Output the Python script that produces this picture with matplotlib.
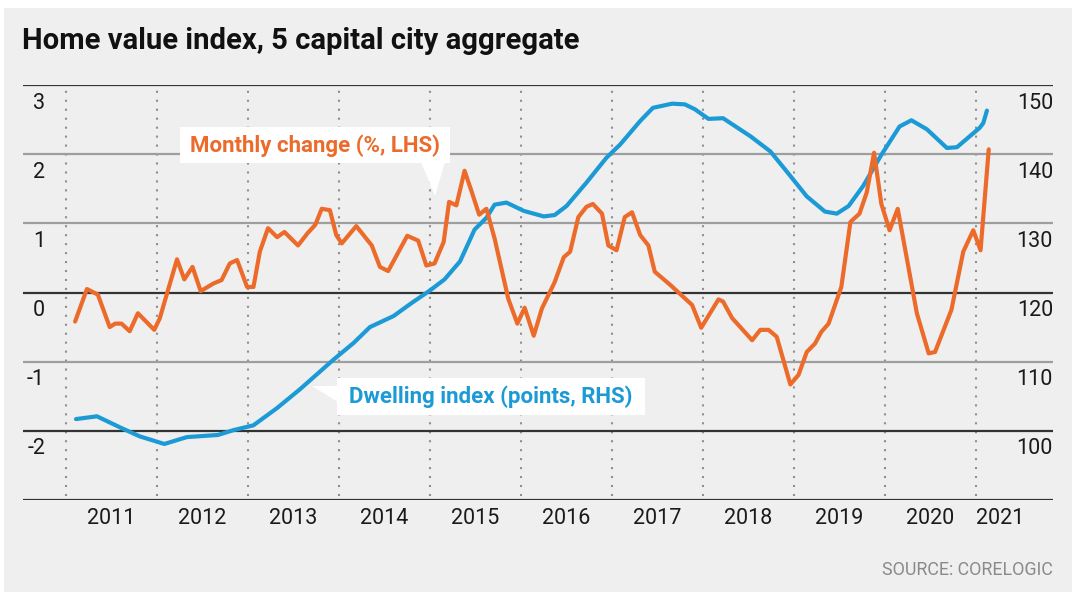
import matplotlib
matplotlib.use('Agg')
import matplotlib.pyplot as plt
from matplotlib.patches import Rectangle, Polygon

plt.rcParams['font.family'] = ['Roboto', 'DejaVu Sans']

# ---------------- data ----------------
title = "Home value index, 5 capital city aggregate"
source = "SOURCE: CORELOGIC"
orange_label = "Monthly change (%, LHS)"
blue_label = "Dwelling index (points, RHS)"

years = list(range(2011, 2022))
lhs_ticks = [3, 2, 1, 0, -1, -2]
rhs_ticks = [150, 140, 130, 120, 110, 100]

# Monthly change (%), LHS
change_t = [2011.10, 2011.23, 2011.35, 2011.48, 2011.54, 2011.61, 2011.70, 2011.79,
            2011.97, 2012.03, 2012.22, 2012.30, 2012.39, 2012.48, 2012.62, 2012.71,
            2012.80, 2012.88, 2012.99, 2013.06, 2013.13, 2013.22, 2013.32, 2013.40,
            2013.55, 2013.65, 2013.74, 2013.81, 2013.90, 2013.97, 2014.03, 2014.19,
            2014.36, 2014.45, 2014.54, 2014.75, 2014.87, 2014.96, 2015.05, 2015.15,
            2015.21, 2015.29, 2015.38, 2015.46, 2015.54, 2015.62, 2015.71, 2015.86,
            2015.96, 2016.04, 2016.14, 2016.23, 2016.37, 2016.47, 2016.54, 2016.63,
            2016.72, 2016.79, 2016.89, 2016.96, 2017.05, 2017.14, 2017.22, 2017.31,
            2017.40, 2017.47, 2017.64, 2017.88, 2017.98, 2018.17, 2018.22, 2018.32,
            2018.54, 2018.63, 2018.72, 2018.81, 2018.96, 2019.05, 2019.14, 2019.23,
            2019.30, 2019.38, 2019.52, 2019.62, 2019.72, 2019.80, 2019.88, 2019.96,
            2020.05, 2020.14, 2020.35, 2020.48, 2020.55, 2020.73, 2020.86, 2020.97,
            2021.05, 2021.14]
change_v = [-0.42, 0.05, -0.03, -0.50, -0.45, -0.45, -0.56, -0.30,
            -0.54, -0.375, 0.48, 0.19, 0.37, 0.02, 0.13, 0.18,
            0.42, 0.47, 0.08, 0.08, 0.59, 0.93, 0.80, 0.875,
            0.68, 0.85, 0.98, 1.21, 1.19, 0.83, 0.71, 0.96,
            0.68, 0.37, 0.31, 0.82, 0.75, 0.39, 0.42, 0.73,
            1.31, 1.26, 1.76, 1.45, 1.125, 1.21, 0.78, -0.09,
            -0.45, -0.22, -0.625, -0.23, 0.15, 0.51, 0.59, 1.09,
            1.24, 1.28, 1.14, 0.68, 0.61, 1.09, 1.16, 0.83,
            0.68, 0.30, 0.11, -0.18, -0.51, -0.10, -0.13, -0.37,
            -0.69, -0.54, -0.54, -0.64, -1.33, -1.19, -0.86, -0.74,
            -0.57, -0.45, 0.08, 1.02, 1.14, 1.45, 2.02, 1.28,
            0.90, 1.21, -0.30, -0.88, -0.86, -0.25, 0.59, 0.90,
            0.61, 2.07]

# Dwelling index (points), RHS
index_t = [2011.11, 2011.34, 2011.61, 2011.81, 2012.08, 2012.33, 2012.67, 2012.84,
           2013.06, 2013.32, 2013.57, 2013.94, 2014.16, 2014.34, 2014.60, 2014.80,
           2015.00, 2015.16, 2015.33, 2015.49, 2015.62, 2015.71, 2015.84, 2016.03,
           2016.25, 2016.37, 2016.50, 2016.72, 2016.94, 2017.09, 2017.31, 2017.45,
           2017.66, 2017.80, 2017.91, 2018.06, 2018.22, 2018.52, 2018.74, 2018.92,
           2019.14, 2019.34, 2019.47, 2019.60, 2019.76, 2019.96, 2020.16, 2020.29,
           2020.46, 2020.68, 2020.79, 2021.04, 2021.08, 2021.12]
index_v = [101.7, 102.1, 100.4, 99.2, 98.1, 99.1, 99.4, 100.1,
           100.8, 103.3, 106.0, 110.3, 112.7, 115.0, 116.6, 118.5,
           120.3, 121.9, 124.5, 129.1, 130.8, 132.7, 133.0, 131.8,
           131.0, 131.2, 132.5, 135.9, 139.5, 141.4, 144.8, 146.7,
           147.3, 147.2, 146.5, 145.1, 145.2, 142.6, 140.4, 137.5,
           133.9, 131.7, 131.4, 132.5, 135.4, 139.9, 144.0, 144.9,
           143.6, 140.9, 141.0, 143.8, 144.5, 146.3]

# ---------------- style ----------------
ORANGE = '#EC6B2B'
BLUE = '#1C9AD6'
BG = '#EFEFEF'
DARK = '#333333'
GRAY = '#9E9E9E'

W, H = 1080, 601
fig = plt.figure(figsize=(W / 100, H / 100), dpi=100)
fig.patch.set_facecolor('white')


def fx(x):
    return x / W


def fy(y):
    return 1 - y / H


fig.add_artist(Rectangle((fx(4), fy(592)), fx(1072) - fx(4), fy(8) - fy(592),
                         transform=fig.transFigure, facecolor=BG,
                         edgecolor='none', zorder=-5))

L, R, T, B = 23, 1053, 85, 500
ax = fig.add_axes([fx(L), fy(B), (R - L) / W, (B - T) / H])
ax.set_xlim(2011 - 43 / 91, 2011 + 987 / 91)
ax.set_ylim(-3, 3)
ax.set_axis_off()

# horizontal rules
for v in [3, 2, 1, 0, -1, -2, -3]:
    dark = v in (3, 0, -2, -3)
    ax.axhline(v, color=DARK if dark else GRAY, lw=1.6, zorder=1)

# dotted year separators
for yr in years:
    ax.axvline(yr, ymin=0.01, ymax=0.99, color='#8F8F8F', lw=1.5,
               linestyle=(0, (1, 3.3)), dash_capstyle='butt', zorder=0.5)

# tick labels
lab_fs = 15.5
for v in lhs_ticks:
    ax.annotate(str(v), xy=((45 - L) / (R - L), v),
                xycoords=('axes fraction', 'data'), xytext=(0, -13),
                textcoords='offset points', ha='right', va='center',
                fontsize=lab_fs, color='#1a1a1a')

for yr in years:
    pos = yr + 0.5 if yr < years[-1] else yr + 0.27
    ax.annotate(str(yr), xy=(pos, 0), xycoords=('data', 'axes fraction'),
                xytext=(0, -13), textcoords='offset points', ha='center',
                va='center', fontsize=lab_fs, color='#1a1a1a')

# RHS axis: dwelling index
ax2 = ax.twinx()
ax2.set_ylim(90, 150)
ax2.set_axis_off()
ax2.plot(index_t, index_v, color=BLUE, lw=3.0, solid_joinstyle='round',
         solid_capstyle='round')
for v in rhs_ticks:
    ax2.annotate(str(v), xy=(1.0, v), xycoords=('axes fraction', 'data'),
                 xytext=(0, -13), textcoords='offset points', ha='right',
                 va='center', fontsize=lab_fs, color='#1a1a1a')

# LHS line: monthly change (drawn on top)
ax3 = ax.twinx()
ax3.set_ylim(-3, 3)
ax3.set_axis_off()
ax3.plot(change_t, change_v, color=ORANGE, lw=3.0, solid_joinstyle='round',
         solid_capstyle='round')

# callout boxes
def callout(box, tail, text, color, cx, cy):
    x0, y0, x1, y1 = box
    fig.add_artist(Rectangle((fx(x0), fy(y1)), fx(x1) - fx(x0), fy(y0) - fy(y1),
                             transform=fig.transFigure, facecolor='white',
                             edgecolor='none', zorder=5))
    fig.add_artist(Polygon([(fx(px), fy(py)) for px, py in tail], closed=True,
                           transform=fig.transFigure, facecolor='white',
                           edgecolor='none', zorder=5))
    fig.text(fx(cx), fy(cy), text, color=color, fontsize=16, weight='bold',
             ha='center', va='center', zorder=6)


callout((180, 127, 450, 163), [(421, 162), (445, 162), (435, 196)],
        orange_label, ORANGE, 315, 146)
callout((337, 378, 645, 415), [(338, 386), (338, 402), (312, 386)],
        blue_label, BLUE, 491, 397)

# title and source
fig.text(fx(22), fy(41), title, fontsize=21.1, ha='left', va='center',
         color='#111111', weight='bold')
fig.text(fx(1053), fy(570), source, fontsize=12.9, ha='right', va='center',
         color='#8A8A8A')

fig.savefig('out.png', dpi=100, facecolor=fig.get_facecolor())
